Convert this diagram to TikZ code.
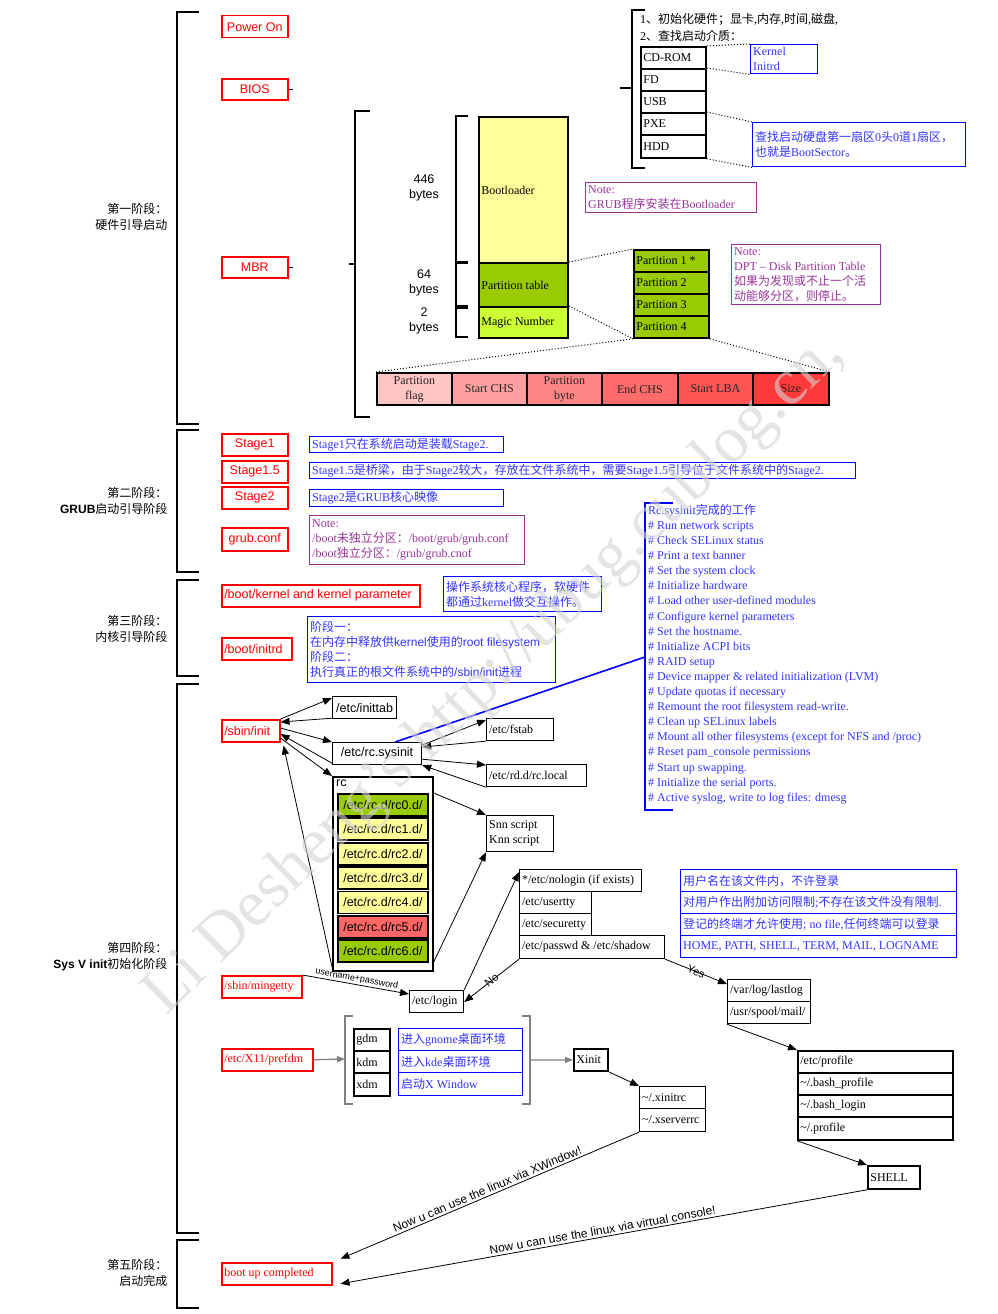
\documentclass[tikz,border=0pt]{standalone}
\usepackage{fontspec}
\setmainfont{Liberation Serif}
\setsansfont{Liberation Sans}
\newfontfamily\cjk{Noto Sans CJK SC}
\usetikzlibrary{arrows.meta,calc}
\newcommand\zh[1]{{\cjk #1}}
\definecolor{ylw}{HTML}{FFFF99}
\definecolor{grn}{HTML}{99CC00}
\definecolor{lim}{HTML}{CCFF33}
\definecolor{pur}{HTML}{993399}
\definecolor{btx}{HTML}{3333FF}
\definecolor{ea}{HTML}{FFC4C4}
\definecolor{eb}{HTML}{FFA0A0}
\definecolor{ec}{HTML}{FF8585}
\definecolor{ed}{HTML}{FF6A6A}
\definecolor{ee}{HTML}{FF5555}
\definecolor{ef}{HTML}{FF3A3A}
\definecolor{rcred}{HTML}{FF6666}
\newcommand\bx[7][]{%
  \node[anchor=north west, minimum width=#5pt, minimum height=#6pt, inner sep=0pt, #1] (#2) at (#3,#4) {};
  \node[#1, draw=none, fill=none, anchor=west, inner xsep=2.5pt, inner ysep=0pt, align=left] (#2t) at (#2.west) {#7};}
\newcommand\bxc[7][]{%
  \node[anchor=north west, minimum width=#5pt, minimum height=#6pt, inner sep=0pt, #1] (#2) at (#3,#4) {};
  \node[#1, draw=none, fill=none, anchor=center, inner sep=0pt, align=center] (#2t) at (#2.center) {#7};}
\tikzset{
  blk/.style={draw=black, line width=1.2pt},
  thk/.style={draw=black, line width=1.8pt},
  redb/.style={draw=red, line width=1.5pt, text=red},
  blub/.style={draw=blue, line width=1.4pt, text=btx},
  purb/.style={draw=pur, line width=1.4pt, text=pur},
  sf/.style={font=\sffamily\fontsize{12.5}{15}\selectfont},
  arr/.style={-{Triangle[length=9pt,width=7pt]}, line width=0.8pt},
  rarr/.style={{Triangle[length=9pt,width=7pt]}-, line width=0.8pt},
  garr/.style={-{Triangle[length=8pt,width=6pt]}, line width=1.3pt, draw=gray},
  dot/.style={dotted, line width=1pt},
  brk/.style={line width=1.5pt},
}
\begin{document}
\begin{tikzpicture}[x=1pt,y=-1pt, every node/.style={font=\fontsize{12}{15}\selectfont}]
\useasboundingbox (0,0) rectangle (998,1314);

% ---------- stage brackets and labels
\draw[brk] (199,12) -- (177,12) -- (177,424) -- (199,424);
\draw[brk] (199,430) -- (177,430) -- (177,572) -- (199,572);
\draw[brk] (199,580) -- (177,580) -- (177,676) -- (199,676);
\draw[brk] (199,684) -- (177,684) -- (177,1233) -- (199,1233);
\draw[brk] (199,1240) -- (177,1240) -- (177,1308) -- (199,1308);
\node[anchor=east, align=right, font=\fontsize{12}{16}\selectfont] (s1) at (171,217) {\zh{第一阶段：}\\\zh{硬件引导启动}};
\node[anchor=east, align=right, font=\fontsize{12}{16}\selectfont] (s2) at (171,501) {\zh{第二阶段：}\\{\sffamily\bfseries GRUB}\zh{启动引导阶段}};
\node[anchor=east, align=right, font=\fontsize{12}{16}\selectfont] (s3) at (171,629) {\zh{第三阶段：}\\\zh{内核引导阶段}};
\node[anchor=east, align=right, font=\fontsize{12}{16}\selectfont] (s4) at (171,957) {\zh{第四阶段：}\\{\sffamily\bfseries Sys V init}\zh{初始化阶段}};
\node[anchor=east, align=right, font=\fontsize{12}{16}\selectfont] (s5) at (171,1273) {\zh{第五阶段：}\\\zh{启动完成}};

% ---------- red boxes
\bxc[redb,sf]{pon}{221}{15}{66}{22}{Power On}
\bxc[redb,sf]{bios}{221}{78}{66}{21}{BIOS}
\bxc[redb,sf]{mbr}{221}{256}{66}{21}{MBR}
\bxc[redb,sf]{st1}{221}{433}{66}{22}{Stage1}
\bxc[redb,sf]{st15}{221}{460}{66}{22}{Stage1.5}
\bxc[redb,sf]{st2}{221}{486}{66}{22}{Stage2}
\bxc[redb,sf]{grubc}{221}{527}{66}{23}{grub.conf}
\bx[redb,sf]{kern}{221}{584}{198}{22}{/boot/kernel and kernel parameter}
\bx[redb,sf]{initrd}{221}{637}{70}{22}{/boot/initrd}
\bx[redb,sf]{sinit}{221}{719}{58}{22}{/sbin/init}
\bx[redb]{mget}{221}{975}{80}{22}{/sbin/mingetty}
\bx[redb]{prefdm}{221}{1048}{91}{22}{/etc/X11/prefdm}
\bx[redb]{bootc}{221}{1262}{110}{22}{boot up completed}

% ---------- BIOS part
\draw[brk] (bios.east) -- ++(4,0);
\draw[brk] (645,10) -- (632,10) -- (632,168) -- (645,168);
\draw[brk] (632,88) -- (620,88);
\node[anchor=west, inner sep=0pt] (l1) at (640,19) {1\zh{、初始化硬件；显卡},\zh{内存},\zh{时间},\zh{磁盘},};
\node[anchor=west, inner sep=0pt] (l2) at (640,36) {2\zh{、查找启动介质：}};
\bx[thk]{cd}{640}{46}{65}{22}{CD-ROM}
\bx[thk]{fd}{640}{68}{65}{22}{FD}
\bx[thk]{usb}{640}{90}{65}{22}{USB}
\bx[thk]{pxe}{640}{112}{65}{22}{PXE}
\bx[thk]{hdd}{640}{134}{65}{23}{HDD}
\bx[blub]{kin}{750}{44}{67}{29}{Kernel\\Initrd}
\bx[blub]{bsec}{752}{122}{213}{44}{\zh{查找启动硬盘第一扇区}0\zh{头}0\zh{道}1\zh{扇区，}\\\zh{也就是}BootSector\zh{。}}
\draw[dot] (cd.north east) -- (kin.north west);
\draw[dot] (fd.north east) -- (kin.south west);
\draw[dot] (pxe.north east) -- (bsec.north west);
\draw[dot] (hdd.south east) -- (bsec.south west);

% ---------- MBR part
\draw[brk] (mbr.east) -- ++(4,0);
\draw[brk] (370,111) -- (355,111) -- (355,417) -- (370,417);
\draw[brk] (355,264) -- (349,264);
\draw[brk] (468,116) -- (456,116) -- (456,262) -- (468,262);
\draw[brk] (468,263) -- (456,263) -- (456,306) -- (468,306);
\draw[brk] (468,308) -- (456,308) -- (456,337) -- (468,337);
\node[sf, align=center] (b446) at (424,188) {446\\bytes};
\node[sf, align=center] (b64) at (424,283) {64\\bytes};
\node[sf, align=center] (b2) at (424,321) {2\\bytes};
\bx[thk, fill=ylw]{boot}{478}{116}{89}{146}{Bootloader}
\bx[thk, fill=grn]{ptab}{478}{262}{89}{44}{Partition table}
\bx[thk, fill=lim]{magic}{478}{306}{89}{31}{Magic Number}
\bx[thk, fill=grn]{pa1}{633}{249}{75}{22}{Partition 1 *}
\bx[thk, fill=grn]{pa2}{633}{271}{75}{22}{Partition 2}
\bx[thk, fill=grn]{pa3}{633}{293}{75}{22}{Partition 3}
\bx[thk, fill=grn]{pa4}{633}{315}{75}{22}{Partition 4}
\bxc[thk, fill=ea, text=black!85]{e1}{376}{372}{75}{32}{Partition\\flag}
\bxc[thk, fill=eb, text=black!85]{e2}{451}{372}{75}{32}{Start CHS}
\bxc[thk, fill=ec, text=black!85]{e3}{526}{372}{75}{32}{Partition\\byte}
\bxc[thk, fill=ed, text=black!85]{e4}{601}{372}{76}{32}{End CHS}
\bxc[thk, fill=ee, text=black!85]{e5}{677}{372}{75}{32}{Start LBA}
\bxc[thk, fill=ef, text=black!85]{e6}{752}{372}{76}{32}{Size}
\draw[dot] (ptab.north east) -- (pa1.north west);
\draw[dot] (magic.north east) -- (pa4.south west);
\draw[dot] (pa4.south west) -- (e1.north west);
\draw[dot] (pa4.south east) -- (e6.north east);
\bx[purb]{n1}{585}{182}{171}{30}{Note:\\GRUB\zh{程序安装在}Bootloader}
\bx[purb]{n2}{731}{244}{149}{60}{Note:\\DPT – Disk Partition Table\\\zh{如果为发现或不止一个活}\\\zh{动能够分区，则停止。}}

% ---------- GRUB part
\bx[blub]{d1}{309}{436}{194}{16}{Stage1\zh{只在系统启动是装载}Stage2.}
\bx[blub]{d15}{309}{462}{546}{16}{Stage1.5\zh{是桥梁，由于}Stage2\zh{较大，存放在文件系统中，需要}Stage1.5\zh{引导位于文件系统中的}Stage2.}
\bx[blub]{d2}{309}{489}{194}{17}{Stage2\zh{是}GRUB\zh{核心映像}}
\bx[purb]{n3}{309}{515}{215}{49}{Note:\\/boot\zh{未独立分区：}/boot/grub/grub.conf\\/boot\zh{独立分区：}/grub/grub.cnof}

% ---------- kernel part
\bx[blub]{kd}{443}{576}{158}{35}{\zh{操作系统核心程序，软硬件}\\\zh{都通过}kernel\zh{做交互操作。}}
\bx[blub]{idesc}{307}{616}{248}{66}{\zh{阶段一：}\\\zh{在内存中释放供}{\sffamily kernel}\zh{使用的}{\sffamily root filesystem}\\\zh{阶段二：}\\\zh{执行真正的根文件系统中的}{\sffamily /sbin/init}\zh{进程}}

% ---------- rc.sysinit list
\draw[blue, line width=1.5pt] (673,503) -- (645,503) -- (645,810) -- (673,810);
\node[anchor=north west, inner sep=1pt, text=btx, align=left, font=\fontsize{12}{15.1}\selectfont] (rcl) at (647,503) {Rc.sysinit\zh{完成的工作}\\\# Run network scripts\\\# Check SELinux status\\\# Print a text banner\\\# Set the system clock\\\# Initialize hardware\\\# Load other user-defined modules\\\# Configure kernel parameters\\\# Set the hostname.\\\# Initialize ACPI bits\\\# RAID setup\\\# Device mapper \& related initialization (LVM)\\\# Update quotas if necessary\\\# Remount the root filesystem read-write.\\\# Clean up SELinux labels\\\# Mount all other filesystems (except for NFS and /proc)\\\# Reset pam\_console permissions\\\# Start up swapping.\\\# Initialize the serial ports.\\\# Active syslog, write to log files: dmesg};

% ---------- Sys V init part
\bxc[blk,sf]{itab}{332}{696}{64}{22}{/etc/inittab}
\bxc[blk,sf]{sys}{332}{742}{89}{22}{/etc/rc.sysinit}
\bx[blk]{fstab}{486}{718}{67}{22}{/etc/fstab}
\bx[blk]{rcloc}{486}{764}{100}{22}{/etc/rd.d/rc.local}
\node[thk, anchor=north west, minimum width=100pt, minimum height=194pt, inner sep=0pt] (rc) at (332,776) {};
\node[sf, anchor=north west, inner sep=1pt] (rclab) at (335,779) {rc};
\bxc[thk,sf,fill=grn]{r0}{337}{793}{90}{22}{/etc/rc.d/rc0.d/}
\bxc[thk,sf,fill=ylw]{r1}{337}{817.4}{90}{22}{/etc/rc.d/rc1.d/}
\bxc[thk,sf,fill=ylw]{r2}{337}{841.8}{90}{22}{/etc/rc.d/rc2.d/}
\bxc[thk,sf,fill=ylw]{r3}{337}{866.2}{90}{22}{/etc/rc.d/rc3.d/}
\bxc[thk,sf,fill=ylw]{r4}{337}{890.6}{90}{22}{/etc/rc.d/rc4.d/}
\bxc[thk,sf,fill=rcred]{r5}{337}{915}{90}{22}{/etc/rc.d/rc5.d/}
\bxc[thk,sf,fill=grn]{r6}{337}{939.4}{90}{22}{/etc/rc.d/rc6.d/}
\bx[blk]{snn}{486}{815}{67}{36}{Snn script\\Knn script}
\coordinate (rcm) at (645,657);
\draw[blue, line width=1.6pt] (rcm) -- ($(sys.north west)!0.7!(sys.north east)$);

\draw[arr] (sinit.north east) -- ([yshift=-2pt]itab.north west);
\draw[arr] ([yshift=1pt]itab.south west) -- ([yshift=-3pt]sinit.north east);
\draw[arr] ([yshift=-9pt]sinit.north east) -- (sys.north west);
\draw[arr] ([yshift=2pt]sys.south west) -- ([yshift=-15pt]sinit.north east);
\draw[arr] ([yshift=-19pt]sinit.north east) -- (rc.north west);
\draw[arr] ([yshift=5pt]rc.south west) -- ([xshift=3pt,yshift=-3pt]sinit.south east);
\draw[arr] ([yshift=-3pt]sys.north east) -- ([yshift=-2pt]fstab.north west);
\draw[arr] (fstab.south west) -- ([yshift=-5pt]sys.north east);
\draw[arr] ([yshift=6pt]sys.south east) -- ([yshift=-1pt]rcloc.north west);
\draw[arr] (rcloc.south west) -- (sys.south east);
\draw[arr] ([yshift=-17pt]rc.north east) -- (snn.north west);
\draw[arr] ([yshift=10pt]rc.south east) -- (snn.south west);

% ---------- login part
\bx[blk]{nolog}{519}{869}{122}{22}{*/etc/nologin (if exists)}
\bx[blk]{utty}{519}{891}{72}{22}{/etc/usertty}
\bx[blk]{stty}{519}{913}{72}{22}{/etc/securetty}
\bx[blk]{pwd}{519}{935}{145}{23}{/etc/passwd \& /etc/shadow}
\bx[blub]{u1}{680}{869}{276}{22}{\zh{用户名在该文件内，不许登录}}
\bx[blub]{u2}{680}{891}{276}{22}{\zh{对用户作出附加访问限制};\zh{不存在该文件没有限制}.}
\bx[blub]{u3}{680}{913}{276}{22}{\zh{登记的终端才允许使用}; no file,\zh{任何终端可以登录}}
\bx[blub]{u4}{680}{935}{276}{22}{HOME, PATH, SHELL, TERM, MAIL, LOGNAME}
\bx[blk]{lastlog}{727}{979}{83}{22}{/var/log/lastlog}
\bx[blk]{spool}{727}{1001}{83}{22}{/usr/spool/mail/}
\bx[blk]{login}{409}{990}{54}{22}{/etc/login}
\draw[arr] (mget.north east) -- node[sloped, above, inner sep=1pt, font=\sffamily\fontsize{9}{10}\selectfont] (up) {username+password} ([yshift=-4pt]login.north west);
\draw[arr] (login.north east) -- ([yshift=-3pt]nolog.north west);
\draw[arr] (pwd.south west) -- node[sloped, inner sep=0pt, font=\sffamily\fontsize{11}{12}\selectfont] (no) {No} ([yshift=-12pt]login.north east);
\draw[arr] (pwd.south east) -- node[sloped, inner sep=0pt, font=\sffamily\fontsize{11}{12}\selectfont] (yes) {Yes} ([yshift=-5pt]lastlog.north west);

% ---------- X part
\draw[line width=1.3pt, draw=gray] (353,1016) -- (345,1016) -- (345,1104) -- (353,1104);
\draw[line width=1.3pt, draw=gray] (522,1016) -- (530,1016) -- (530,1104) -- (522,1104);
\coordinate (lbk) at (345,1059);
\coordinate (rbk) at (530,1060);
\bx[thk]{gdm}{353}{1028}{36}{22}{gdm}
\bx[thk]{kdm}{353}{1050}{36}{22}{kdm}
\bx[thk]{xdm}{353}{1072}{36}{23}{xdm}
\bx[blub]{gnm}{398}{1028}{124}{22}{\zh{进入}gnome\zh{桌面环境}}
\bx[blub]{kde}{398}{1050}{124}{22}{\zh{进入}kde\zh{桌面环境}}
\bx[blub]{xwin}{398}{1072}{124}{23}{\zh{启动}X Window}
\bx[thk]{xinit}{573}{1048}{34}{22}{Xinit}
\bx[blk]{xrc}{639}{1086}{66}{22}{\textasciitilde/.xinitrc}
\bx[blk]{xsrv}{639}{1108}{66}{23}{\textasciitilde/.xserverrc}
\draw[garr] (prefdm.east) -- (lbk);
\draw[garr] (rbk) -- (xinit.west);
\draw[arr] (xinit.south east) -- (xrc.north west);

% ---------- profile part
\bx[thk]{prof}{797}{1050}{155}{22}{/etc/profile}
\bx[thk]{bashp}{797}{1072}{155}{22}{\textasciitilde/.bash\_profile}
\bx[thk]{bashl}{797}{1094}{155}{22}{\textasciitilde/.bash\_login}
\bx[thk]{profl}{797}{1116}{155}{23}{\textasciitilde/.profile}
\bx[thk]{shell}{867}{1165}{52}{23}{SHELL}
\draw[arr] (spool.south west) -- (prof.north west);
\draw[arr] (profl.south west) -- (shell.north west);

% ---------- final arrows
\draw[rarr] ([xshift=8pt,yshift=15pt]bootc.east) -- node[sloped, above, inner sep=2pt, font=\sffamily\fontsize{12}{14}\selectfont] (xw) {Now u can use the linux via XWindow!} (xsrv.south west);
\draw[rarr] ([xshift=8pt,yshift=-10pt]bootc.east) -- node[sloped, above, inner sep=2pt, font=\sffamily\fontsize{12}{14}\selectfont] (vc) {Now u can use the linux via virtual console!} (shell.south west);

% ---------- watermark
\node[rotate=44.2, text=gray!35, opacity=0.6, font=\fontsize{66}{66}\selectfont] (wm) at (495,675) {Li Desheng's http://ubug.cublog.cn,};
\end{tikzpicture}
\end{document}
